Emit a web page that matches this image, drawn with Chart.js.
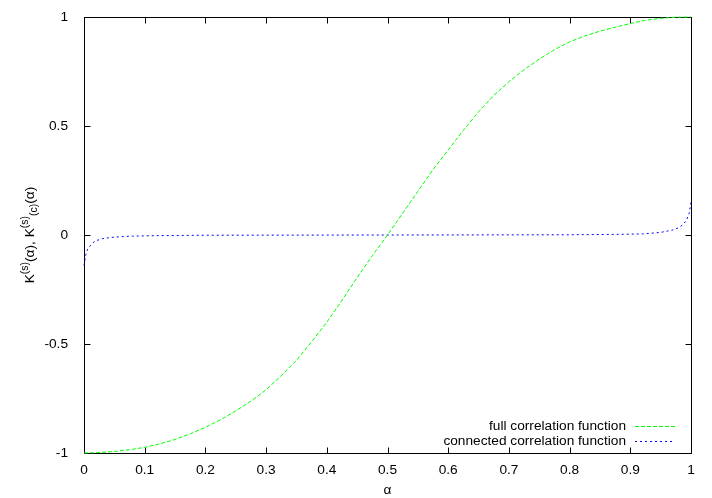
<!DOCTYPE html>
<html>
<head>
<meta charset="utf-8">
<script src="https://cdn.jsdelivr.net/npm/chart.js@4/dist/chart.umd.min.js"></script>
<style>
  html, body { margin: 0; padding: 0; background: #fff; }
  #wrap { width: 712px; height: 498px; }
</style>
</head>
<body>
<div id="wrap"><canvas id="chart" width="712" height="498"></canvas></div>
<script>
// values
const seriesNames = ['full correlation function', 'connected correlation function'];

const alphaFull = [0, 0.025, 0.05, 0.075, 0.1, 0.125, 0.15, 0.175, 0.2, 0.225, 0.25, 0.275,
  0.3, 0.325, 0.35, 0.375, 0.4, 0.425, 0.45, 0.475, 0.5, 0.525, 0.55, 0.575, 0.6, 0.625,
  0.65, 0.675, 0.7, 0.725, 0.75, 0.775, 0.8, 0.825, 0.85, 0.875, 0.9, 0.925, 0.95, 0.975, 1];
const fullCorr = [-1, -0.998, -0.993, -0.985, -0.974, -0.958, -0.938, -0.912, -0.882, -0.847,
  -0.807, -0.762, -0.71, -0.645, -0.575, -0.49, -0.4, -0.3, -0.195, -0.095, 0, 0.1, 0.2, 0.3,
  0.39, 0.48, 0.565, 0.64, 0.703, 0.758, 0.807, 0.85, 0.886, 0.913, 0.935, 0.953, 0.97, 0.985,
  0.994, 0.999, 1];

const alphaConn = [0, 0.003, 0.006, 0.01, 0.015, 0.02, 0.03, 0.045, 0.06, 0.08, 0.12, 0.2, 0.5,
  0.8, 0.88, 0.92, 0.95, 0.97, 0.98, 0.987, 0.993, 0.997, 1];
const connCorr = [-0.14, -0.09, -0.065, -0.05, -0.035, -0.026, -0.017, -0.011, -0.008, -0.005,
  -0.003, -0.001, 0, 0.001, 0.003, 0.005, 0.012, 0.023, 0.034, 0.048, 0.07, 0.1, 0.15];

const xTicks = [0, 0.1, 0.2, 0.3, 0.4, 0.5, 0.6, 0.7, 0.8, 0.9, 1];
const yTicks = [-1, -0.5, 0, 0.5, 1];

const FONT = 'Liberation Sans, Arial, sans-serif';
const FSIZE = 13.7;

const toPts = (xs, ys) => xs.map((x, i) => ({ x: x, y: ys[i] }));
const fmt = v => String(Number(v.toFixed(2)));

// frame and inward ticks on all four sides, like gnuplot
const frameTicks = {
  id: 'frameTicks',
  beforeDatasetsDraw(chart) {
    const { ctx, chartArea: a, scales: { x, y } } = chart;
    const L = Math.round(a.left) + 0.5, R = Math.round(a.right) + 0.5;
    const T = Math.round(a.top) + 0.5, B = Math.round(a.bottom) + 0.5;
    ctx.save();
    ctx.strokeStyle = '#000';
    ctx.lineWidth = 1;
    ctx.beginPath();
    xTicks.forEach(v => {
      const px = Math.round(x.getPixelForValue(v)) + 0.5;
      ctx.moveTo(px, B); ctx.lineTo(px, B - 6);
      ctx.moveTo(px, T); ctx.lineTo(px, T + 6);
    });
    yTicks.forEach(v => {
      const py = Math.round(y.getPixelForValue(v)) + 0.5;
      ctx.moveTo(L, py); ctx.lineTo(L + 6, py);
      ctx.moveTo(R, py); ctx.lineTo(R - 6, py);
    });
    ctx.stroke();
    ctx.strokeRect(L, T, R - L, B - T);
    ctx.restore();
  }
};

// key in the lower right corner: text right aligned, sample line after it
const keyBox = {
  id: 'keyBox',
  afterDatasetsDraw(chart) {
    const { ctx, chartArea: a } = chart;
    ctx.save();
    ctx.font = FSIZE + 'px ' + FONT;
    ctx.fillStyle = '#000';
    ctx.textAlign = 'right';
    ctx.textBaseline = 'middle';
    chart.data.datasets.forEach((ds, i) => {
      const yy = a.bottom - 27 + i * 15;
      ctx.fillText(ds.label, a.right - 65, yy + 0.5);
      ctx.strokeStyle = ds.borderColor;
      ctx.lineWidth = 1;
      ctx.setLineDash(ds.borderDash);
      ctx.beginPath();
      ctx.moveTo(a.right - 56, Math.round(yy) + 0.5);
      ctx.lineTo(a.right - 16, Math.round(yy) + 0.5);
      ctx.stroke();
    });
    ctx.restore();
  }
};

// axis titles, the y one with super- and subscripts
const axisTitles = {
  id: 'axisTitles',
  afterDraw(chart) {
    const { ctx, chartArea: a } = chart;
    ctx.save();
    ctx.fillStyle = '#000';
    ctx.textBaseline = 'alphabetic';
    ctx.font = FSIZE + 'px ' + FONT;
    ctx.textAlign = 'center';
    ctx.fillText('α', (a.left + a.right) / 2, 494);

    const parts = [
      { t: 'K', s: 0 }, { t: '(s)', s: 1 }, { t: '(α), K', s: 0 },
      { t: '(s)', s: 1 }, { t: '(c)', s: -1 }, { t: '(α)', s: 0 }
    ];
    const fontFor = s => (s === 0 ? FSIZE : 10.5) + 'px ' + FONT;
    parts.forEach(p => { ctx.font = fontFor(p.s); p.w = ctx.measureText(p.t).width; });
    const total = parts.reduce((acc, p) => acc + p.w, 0);
    ctx.translate(a.left - 50, (a.top + a.bottom) / 2);
    ctx.rotate(-Math.PI / 2);
    ctx.textAlign = 'left';
    let cx = -total / 2;
    parts.forEach(p => {
      ctx.font = fontFor(p.s);
      const dy = p.s === 1 ? -6 : (p.s === -1 ? 3 : 0);
      ctx.fillText(p.t, cx, dy);
      cx += p.w;
    });
    ctx.restore();
  }
};

new Chart(document.getElementById('chart'), {
  type: 'scatter',
  data: {
    datasets: [
      {
        label: seriesNames[0],
        data: toPts(alphaFull, fullCorr),
        showLine: true,
        borderColor: '#00ff00',
        backgroundColor: '#00ff00',
        borderWidth: 1,
        borderDash: [4, 2],
        pointRadius: 0,
        tension: 0,
        clip: 3
      },
      {
        label: seriesNames[1],
        data: toPts(alphaConn, connCorr),
        showLine: true,
        borderColor: '#0000ff',
        backgroundColor: '#0000ff',
        borderWidth: 1,
        borderDash: [2, 3],
        pointRadius: 0,
        tension: 0,
        clip: 3
      }
    ]
  },
  options: {
    responsive: false,
    animation: false,
    devicePixelRatio: 1,
    layout: { padding: { top: 17, right: 21, left: 0, bottom: 0 } },
    plugins: {
      legend: { display: false },
      tooltip: { enabled: false }
    },
    scales: {
      x: {
        type: 'linear',
        min: 0, max: 1,
        grid: { display: false },
        border: { display: false },
        afterBuildTicks: s => { s.ticks = xTicks.map(v => ({ value: v })); },
        afterFit: s => { s.height = 45; },
        ticks: {
          color: '#000',
          padding: 1,
          maxRotation: 0,
          autoSkip: false,
          font: { family: FONT, size: FSIZE },
          callback: v => fmt(v)
        }
      },
      y: {
        type: 'linear',
        min: -1, max: 1,
        grid: { display: false },
        border: { display: false },
        afterBuildTicks: s => { s.ticks = yTicks.map(v => ({ value: v })); },
        afterFit: s => { s.width = 84; },
        ticks: {
          color: '#000',
          padding: 8,
          font: { family: FONT, size: FSIZE },
          callback: v => fmt(v)
        }
      }
    }
  },
  plugins: [frameTicks, keyBox, axisTitles]
});
</script>
</body>
</html>
